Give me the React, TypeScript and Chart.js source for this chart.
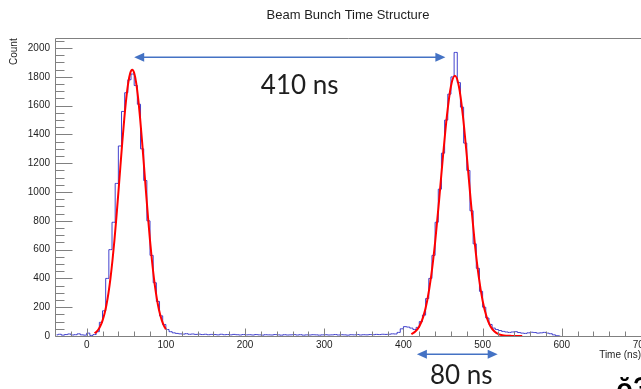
import React, { useEffect, useRef } from 'react';
import { Chart, registerables } from 'chart.js';

Chart.register(...registerables);

// ---------- data ----------
const TITLE = 'Beam Bunch Time Structure';
const X_TITLE = 'Time (ns)';
const Y_TITLE = 'Count';

// histogram: 4 ns bins starting at -40 ns
const BIN_LOW = -40;
const BIN_WIDTH = 4;
const counts = [
  8, 12, 6, 10, 14, 7, 9, 15, 8, 6,
  20, 4, 10, 30, 95, 175, 400, 600, 790, 1060,
  1320, 1560, 1690, 1780, 1820, 1740, 1610, 1300, 1080, 800,
  560, 370, 240, 140, 80, 45, 30, 22, 18, 15,
  13, 16, 12, 14, 11, 13, 10, 12, 9, 11,
  10, 8, 12, 9, 10, 8, 11, 9, 7, 10,
  8, 9, 7, 10, 8, 6, 9, 8, 7, 10,
  8, 6, 9, 7, 8, 10, 7, 9, 6, 8,
  7, 9, 8, 6, 8, 9, 7, 8, 10, 7,
  9, 8, 6, 9, 8, 10, 7, 9, 8, 10,
  9, 11, 10, 12, 11, 12, 15, 14, 25, 50,
  65, 62, 55, 45, 60, 100, 145, 260, 400, 560,
  790, 1020, 1270, 1500, 1680, 1800, 1970, 1760, 1590, 1340,
  1150, 870, 640, 470, 310, 200, 125, 80, 55, 45,
  38, 32, 28, 25, 28, 30, 24, 20, 18, 22,
  26, 24, 20, 22, 25, 20, 16, 8, 2, 0,
];

// fitted curve, first bunch
const fit1Times = [
  10, 12.5, 15, 17.5, 20, 22.5, 25, 27.5, 30, 32.5, 35, 37.5, 40, 42.5, 45, 47.5, 50, 52.5, 55,
  57.5, 60, 62.5, 65, 67.5, 70, 72.5, 75, 77.5, 80, 82.5, 85, 87.5, 90, 92.5, 95, 97.5, 100,
];
const fit1Values = [
  19, 30, 47, 72, 107, 154, 217, 298, 399, 521, 662, 822, 994, 1172, 1348, 1510, 1651, 1759, 1827,
  1850, 1827, 1759, 1651, 1510, 1348, 1172, 994, 822, 662, 521, 399, 298, 217, 154, 107, 72, 47,
];

// fitted curve, second bunch
const fit2Times = [
  410, 415, 420, 425, 430, 435, 440, 445, 450, 455, 460, 465, 470, 475, 480,
  485, 490, 495, 500, 505, 510, 515, 520, 525, 530, 535, 540, 545, 550,
];
const fit2Values = [
  13, 31, 66, 133, 245, 416, 651, 941, 1252, 1535, 1735, 1807, 1735, 1535, 1252,
  941, 651, 416, 245, 133, 66, 31, 13, 5, 2, 1, 0, 0, 0,
];

const X_TICKS = [0, 100, 200, 300, 400, 500, 600, 700];
const Y_TICKS = [0, 200, 400, 600, 800, 1000, 1200, 1400, 1600, 1800, 2000];
const X_MIN = -40;
const X_MAX = 700;
const Y_MAX = 2068;

// annotations (data units)
const SPACING_LABEL = '410 ns';
const SPACING_ARROW = { from: 60, to: 453, y: 1937 };
const SPACING_TEXT = { x: 269, y: 1738 };
const WIDTH_LABEL = '80 ns';
const WIDTH_ARROW = { from: 417, to: 519, y: -127 };
const WIDTH_TEXT = { x: 473, y: -272 };
const CORNER_TEXT = 'ŏ3';
const CORNER_POS = { x: 710, y: -430 };

// ---------- style ----------
const HIST_COLOR = 'rgba(45,45,200,0.9)';
const FIT_COLOR = '#ff0000';
const AXIS_COLOR = '#808080';
const TEXT_COLOR = '#1e1e1e';
const ARROW_COLOR = '#4472c4';
const FONT = 'Liberation Sans';
const NOTE_FONT = 'Lato';

function drawArrow(ctx: CanvasRenderingContext2D, x1: number, x2: number, y: number) {
  const head = 10;
  const half = 4.5;
  ctx.strokeStyle = ARROW_COLOR;
  ctx.fillStyle = ARROW_COLOR;
  ctx.lineWidth = 1.5;
  ctx.beginPath();
  ctx.moveTo(x1 + head - 1, y);
  ctx.lineTo(x2 - head + 1, y);
  ctx.stroke();
  ctx.beginPath();
  ctx.moveTo(x1, y);
  ctx.lineTo(x1 + head, y - half);
  ctx.lineTo(x1 + head, y + half);
  ctx.closePath();
  ctx.fill();
  ctx.beginPath();
  ctx.moveTo(x2, y);
  ctx.lineTo(x2 - head, y - half);
  ctx.lineTo(x2 - head, y + half);
  ctx.closePath();
  ctx.fill();
}

const rootStylePlugin = {
  id: 'rootStyle',
  afterDraw(chart: any) {
    const { ctx, chartArea: a, scales } = chart;
    const xs = scales.x;
    const ys = scales.y;
    ctx.save();
    ctx.strokeStyle = AXIS_COLOR;
    ctx.lineWidth = 1;
    const L = Math.round(a.left) + 0.5;
    const B = Math.round(a.bottom) + 0.5;
    const T = Math.round(a.top) + 0.5;
    const R = Math.round(a.right) + 2;
    ctx.beginPath();
    ctx.moveTo(R, T);
    ctx.lineTo(L, T);
    ctx.lineTo(L, B);
    ctx.lineTo(R, B);
    ctx.stroke();

    // y ticks (inside)
    ctx.beginPath();
    for (let v = 0; v <= Y_MAX; v += 50) {
      const len = v % 200 === 0 ? 17 : 9;
      const py = Math.round(ys.getPixelForValue(v)) + 0.5;
      ctx.moveTo(L, py);
      ctx.lineTo(L + len, py);
    }
    // x ticks (inside)
    for (let v = -20; v <= X_MAX; v += 20) {
      const len = v % 100 === 0 ? 8 : 5;
      const px = Math.round(xs.getPixelForValue(v)) + 0.5;
      ctx.moveTo(px, B);
      ctx.lineTo(px, B - len);
    }
    ctx.stroke();

    // annotations
    drawArrow(ctx, xs.getPixelForValue(SPACING_ARROW.from), xs.getPixelForValue(SPACING_ARROW.to), ys.getPixelForValue(SPACING_ARROW.y));
    drawArrow(ctx, xs.getPixelForValue(WIDTH_ARROW.from), xs.getPixelForValue(WIDTH_ARROW.to), ys.getPixelForValue(WIDTH_ARROW.y));
    ctx.fillStyle = TEXT_COLOR;
    ctx.font = `26px ${NOTE_FONT}`;
    ctx.textAlign = 'center';
    ctx.textBaseline = 'middle';
    ctx.fillText(SPACING_LABEL, xs.getPixelForValue(SPACING_TEXT.x), ys.getPixelForValue(SPACING_TEXT.y));
    ctx.fillText(WIDTH_LABEL, xs.getPixelForValue(WIDTH_TEXT.x), ys.getPixelForValue(WIDTH_TEXT.y));
    ctx.font = `bold 28px ${NOTE_FONT}`;
    ctx.textAlign = 'right';
    ctx.textBaseline = 'alphabetic';
    ctx.fillStyle = '#000000';
    ctx.fillText(CORNER_TEXT, xs.getPixelForValue(CORNER_POS.x), ys.getPixelForValue(CORNER_POS.y));
    ctx.restore();
  },
};

export default function App() {
  const ref = useRef<HTMLCanvasElement>(null);

  useEffect(() => {
    if (!ref.current) return;
    const histData = counts.map((c, i) => ({ x: BIN_LOW + BIN_WIDTH * (i + 0.5), y: c }));
    const fit1 = fit1Times.map((t, i) => ({ x: t, y: fit1Values[i] }));
    const fit2 = fit2Times.map((t, i) => ({ x: t, y: fit2Values[i] }));
    const tickFont = { family: FONT, size: 10 };

    const chart = new Chart(ref.current, {
      type: 'line',
      data: {
        datasets: [
          {
            label: 'data',
            data: histData,
            stepped: 'middle',
            borderColor: HIST_COLOR,
            borderWidth: 1,
            pointRadius: 0,
            fill: false,
            order: 2,
          },
          {
            label: 'fit 1',
            data: fit1,
            borderColor: FIT_COLOR,
            borderWidth: 2,
            pointRadius: 0,
            cubicInterpolationMode: 'monotone',
            fill: false,
            order: 1,
          },
          {
            label: 'fit 2',
            data: fit2,
            borderColor: FIT_COLOR,
            borderWidth: 2,
            pointRadius: 0,
            cubicInterpolationMode: 'monotone',
            fill: false,
            order: 1,
          },
        ],
      } as any,
      options: {
        animation: false,
        responsive: false,
        devicePixelRatio: 1,
        layout: { padding: 0 },
        plugins: {
          legend: { display: false },
          tooltip: { enabled: false },
          title: {
            display: true,
            text: TITLE,
            fullSize: false,
            color: TEXT_COLOR,
            font: { family: FONT, size: 13, weight: 'normal' },
            padding: { top: 7.2, bottom: 15.5 },
          },
        },
        scales: {
          x: {
            type: 'linear',
            min: X_MIN,
            max: X_MAX,
            afterBuildTicks: (s: any) => {
              s.ticks = X_TICKS.map((v) => ({ value: v }));
            },
            afterFit: (s: any) => {
              s.height = 53;
              s.paddingLeft = 0;
              s.paddingRight = 0;
            },
            ticks: {
              font: tickFont,
              color: TEXT_COLOR,
              padding: 3,
              autoSkip: false,
              maxRotation: 0,
              callback: (v: any) => String(v),
            },
            grid: { display: false, drawTicks: false },
            border: { display: false },
            title: {
              display: true,
              text: X_TITLE,
              align: 'end',
              color: TEXT_COLOR,
              font: tickFont,
              padding: { top: 0, bottom: 28 },
            },
          },
          y: {
            type: 'linear',
            min: 0,
            max: Y_MAX,
            afterBuildTicks: (s: any) => {
              s.ticks = Y_TICKS.map((v) => ({ value: v }));
            },
            afterFit: (s: any) => {
              s.width = 55;
              s.paddingTop = 0;
              s.paddingBottom = 0;
            },
            ticks: { font: tickFont, color: TEXT_COLOR, padding: 5, callback: (v: any) => String(v) },
            grid: { display: false, drawTicks: false },
            border: { display: false },
            title: {
              display: true,
              text: Y_TITLE,
              align: 'end',
              color: TEXT_COLOR,
              font: tickFont,
              padding: { top: 8, bottom: 0 },
            },
          },
        },
      } as any,
      plugins: [rootStylePlugin],
    });
    return () => chart.destroy();
  }, []);

  return (
    <div
      style={{
        position: 'absolute',
        left: 0,
        top: 0,
        width: 641,
        height: 389,
        overflow: 'hidden',
        background: '#ffffff',
      }}
    >
      <canvas ref={ref} width={641} height={389} style={{ display: 'block' }} />
    </div>
  );
}
